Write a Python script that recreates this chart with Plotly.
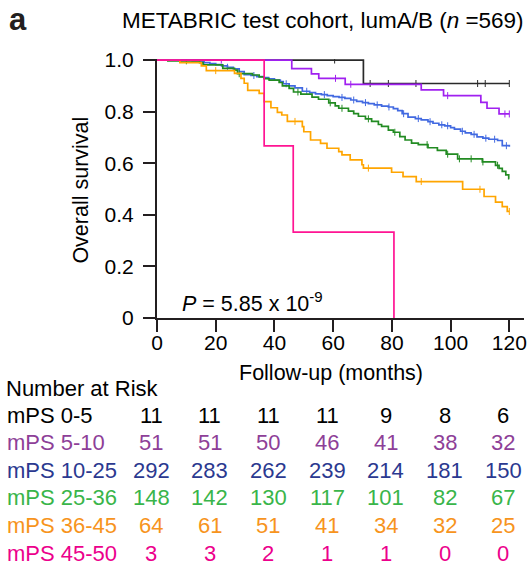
import numpy as np
import plotly.graph_objects as go

FONT = "Liberation Sans, Arial, Helvetica, sans-serif"

groups = ["mPS 0-5", "mPS 5-10", "mPS 10-25", "mPS 25-36", "mPS 36-45", "mPS 45-50"]
line_colors = ["#2a2a2a", "#A020F0", "#4169E1", "#228B22", "#FFA500", "#FF1493"]
text_colors = ["#000000", "#8E3F98", "#2B3990", "#39B54A", "#F7941D", "#EC008C"]

# Kaplan-Meier step curves (time in months, survival after step)
t_05 = [0, 70.3, 120]
s_05 = [1.0, 0.909, 0.909]
c_05 = [60.5, 72.6, 78.8, 88.2, 109.2, 111.8, 120]

t_510 = [0, 45.9, 52.6, 55.1, 64.1, 90.0, 97.6, 110.3, 112.4, 116.5, 120]
s_510 = [1.0, 0.967, 0.946, 0.929, 0.906, 0.884, 0.862, 0.836, 0.813, 0.791, 0.791]
c_510 = [21.9, 60.8, 66.0, 99.0, 118.5, 120]

t_1025 = [0, 8, 12, 14, 16, 18, 20, 22, 24, 26, 28, 29.7, 32, 34, 36.5, 38, 40, 42, 43, 45,
          47, 49.5, 52, 54, 56, 58, 60, 62, 64, 66, 68, 70, 72, 74, 76.5, 78.8, 80.5, 82, 83.5,
          85.5, 88, 90, 92.3, 94, 96, 98, 100, 101.3, 103.4, 105, 107, 109, 111, 113, 116,
          117.6, 120]
s_1025 = [1.0, 0.998, 0.995, 0.993, 0.990, 0.986, 0.982, 0.977, 0.972, 0.966, 0.955, 0.943,
          0.940, 0.936, 0.932, 0.927, 0.922, 0.916, 0.908, 0.900, 0.892, 0.879, 0.874, 0.869,
          0.866, 0.862, 0.858, 0.855, 0.851, 0.845, 0.840, 0.835, 0.831, 0.826, 0.821, 0.818,
          0.812, 0.804, 0.792, 0.779, 0.773, 0.768, 0.761, 0.755, 0.749, 0.745, 0.738, 0.732,
          0.724, 0.718, 0.712, 0.702, 0.697, 0.693, 0.688, 0.668, 0.664]
c_1025 = [16, 24, 33, 44, 51, 57, 63, 67, 71, 75, 79, 84, 89, 93, 97, 99, 104, 108, 112, 115, 119]

t_2536 = [0, 3.7, 14.5, 15.7, 22.4, 26.4, 27.4, 32.5, 34.8, 36.5, 38.2, 41.6, 42.7, 45, 46.5,
          49, 52.8, 55, 58.5, 60.7, 61.9, 65.2, 67, 68.6, 71, 73.1, 75.4, 76.5, 78.8, 80.5,
          82.7, 84.5, 86.7, 89, 92.3, 95.5, 98.5, 102.4, 110.8, 115.3, 116.5, 117.6, 118.8,
          119.8, 120]
s_2536 = [1.0, 0.997, 0.990, 0.981, 0.968, 0.961, 0.947, 0.942, 0.935, 0.928, 0.922, 0.913,
          0.900, 0.890, 0.876, 0.868, 0.856, 0.848, 0.834, 0.822, 0.813, 0.802, 0.792, 0.782,
          0.772, 0.762, 0.750, 0.743, 0.728, 0.720, 0.703, 0.690, 0.678, 0.672, 0.660, 0.650,
          0.635, 0.617, 0.605, 0.592, 0.580, 0.568, 0.555, 0.540, 0.540]
c_2536 = [10, 28, 48, 59, 63, 72, 81, 92, 99, 103, 107, 111, 116]

t_3645 = [0, 7.8, 15.1, 16.8, 26.4, 28.6, 29.7, 30.9, 34.8, 36.5, 38.8, 41, 42.5, 44.4, 49.5,
          50, 52.3, 55.7, 57.9, 61.9, 63, 65.8, 69.8, 70.3, 79.9, 83.8, 88.3, 104.1, 111.4,
          115.3, 117.6, 119.3, 120]
s_3645 = [1.0, 0.990, 0.977, 0.959, 0.948, 0.929, 0.910, 0.882, 0.871, 0.839, 0.815, 0.797,
          0.787, 0.762, 0.742, 0.722, 0.690, 0.677, 0.658, 0.645, 0.632, 0.613, 0.594, 0.581,
          0.565, 0.548, 0.529, 0.499, 0.471, 0.449, 0.432, 0.413, 0.413]
c_3645 = [20, 47, 72, 90, 110, 120]

t_4550 = [0, 36.5, 46.4, 80.7]
s_4550 = [1.0, 0.667, 0.333, 0.0]
c_4550 = []

curve_times = [t_05, t_510, t_1025, t_2536, t_3645, t_4550]
curve_surv = [s_05, s_510, s_1025, s_2536, s_3645, s_4550]
curve_cens = [c_05, c_510, c_1025, c_2536, c_3645, c_4550]

risk_times = [0, 20, 40, 60, 80, 100, 120]
risk_05 = [11, 11, 11, 11, 9, 8, 6]
risk_510 = [51, 51, 50, 46, 41, 38, 32]
risk_1025 = [292, 283, 262, 239, 214, 181, 150]
risk_2536 = [148, 142, 130, 117, 101, 82, 67]
risk_3645 = [64, 61, 51, 41, 34, 32, 25]
risk_4550 = [3, 3, 2, 1, 1, 0, 0]
risk_rows = [risk_05, risk_510, risk_1025, risk_2536, risk_3645, risk_4550]

y_ticks = [0, 0.2, 0.4, 0.6, 0.8, 1.0]
y_ticktext = ["0", "0.2", "0.4", "0.6", "0.8", "1.0"]
x_ticks = [0, 20, 40, 60, 80, 100, 120]

W, H = 531, 572
ML, MR, MT, MB = 157, 4, 59, 254
PW, PH = W - ML - MR, H - MT - MB


def px2paper(px):
    return (px - ML) / PW


def py2paper(py):
    return (H - MB - py) / PH


def step_at(times, surv, t):
    idx = np.searchsorted(np.asarray(times), t, side="right") - 1
    return np.asarray(surv)[np.clip(idx, 0, len(surv) - 1)]


fig = go.Figure()
draw_order = [0, 2, 3, 4, 1, 5]
for i in draw_order:
    fig.add_trace(go.Scatter(
        x=curve_times[i], y=curve_surv[i], mode="lines",
        line=dict(shape="hv", color=line_colors[i], width=1.7),
        showlegend=False, hoverinfo="skip"))
    if curve_cens[i]:
        cy = step_at(curve_times[i], curve_surv[i], np.asarray(curve_cens[i]))
        fig.add_trace(go.Scatter(
            x=curve_cens[i], y=cy, mode="markers",
            marker=dict(symbol="line-ns", size=5, line=dict(width=1, color=line_colors[i])),
            showlegend=False, hoverinfo="skip"))

axis_col = "#231f20"
fig.update_xaxes(range=[0, 125], tickvals=x_ticks, ticks="outside", ticklen=12, tickwidth=2,
                 tickcolor=axis_col, showline=True, linewidth=2, linecolor=axis_col,
                 showgrid=False, zeroline=False, tickfont=dict(family=FONT, size=21, color="#000"),
                 ticklabelstandoff=-7)
fig.update_yaxes(range=[0, 1.004], tickvals=y_ticks, ticktext=y_ticktext, ticks="outside",
                 ticklen=12, tickwidth=2, tickcolor=axis_col, showline=True, linewidth=2,
                 linecolor=axis_col, showgrid=False, zeroline=False,
                 tickfont=dict(family=FONT, size=21, color="#000"), ticklabelstandoff=5)

ann = []
ann.append(dict(text="<b>a</b>", x=px2paper(6), y=py2paper(19), xref="paper", yref="paper",
                xanchor="left", yanchor="middle", showarrow=False,
                font=dict(family=FONT, size=31, color="#231f20")))
ann.append(dict(text="METABRIC test cohort, lumA/B (<i>n</i> =569)", x=px2paper(529),
                y=py2paper(20), xref="paper", yref="paper", xanchor="right", yanchor="middle",
                showarrow=False, font=dict(family=FONT, size=22.5, color="#000")))
ann.append(dict(text="Overall survival", x=px2paper(80), y=py2paper(190), xref="paper",
                yref="paper", textangle=-90, xanchor="center", yanchor="middle", showarrow=False,
                font=dict(family=FONT, size=21.5, color="#000")))
ann.append(dict(text="Follow-up (months)", x=px2paper(332), y=py2paper(373), xref="paper",
                yref="paper", xanchor="center", yanchor="middle", showarrow=False,
                font=dict(family=FONT, size=21.5, color="#000")))
ann.append(dict(text="<i>P</i> = 5.85 x 10<sup>-9</sup>", x=px2paper(253), y=py2paper(302),
                xref="paper", yref="paper", xanchor="center", yanchor="middle", showarrow=False,
                font=dict(family=FONT, size=21.5, color="#000")))
ann.append(dict(text="Number at Risk", x=px2paper(3), y=py2paper(388), xref="paper",
                yref="paper", xanchor="left", yanchor="middle", showarrow=False,
                font=dict(family=FONT, size=22, color="#000")))

row_py = [415, 442.7, 470, 497.7, 525.7, 553.3]
for r, (name, vals) in enumerate(zip(groups, risk_rows)):
    ann.append(dict(text=name, x=px2paper(4), y=py2paper(row_py[r]), xref="paper",
                    yref="paper", xanchor="left", yanchor="middle", showarrow=False,
                    font=dict(family=FONT, size=22, color=text_colors[r])))
    for t, v in zip(risk_times, vals):
        ann.append(dict(text=str(v), x=t, y=py2paper(row_py[r]), xref="x", yref="paper",
                        xanchor="center", yanchor="middle", xshift=-6, showarrow=False,
                        font=dict(family=FONT, size=22, color=text_colors[r])))

fig.update_layout(width=W, height=H, autosize=False,
                  margin=dict(l=ML, r=MR, t=MT, b=MB, pad=0),
                  plot_bgcolor="white", paper_bgcolor="white",
                  annotations=ann, showlegend=False)

fig.write_html("out.html")
